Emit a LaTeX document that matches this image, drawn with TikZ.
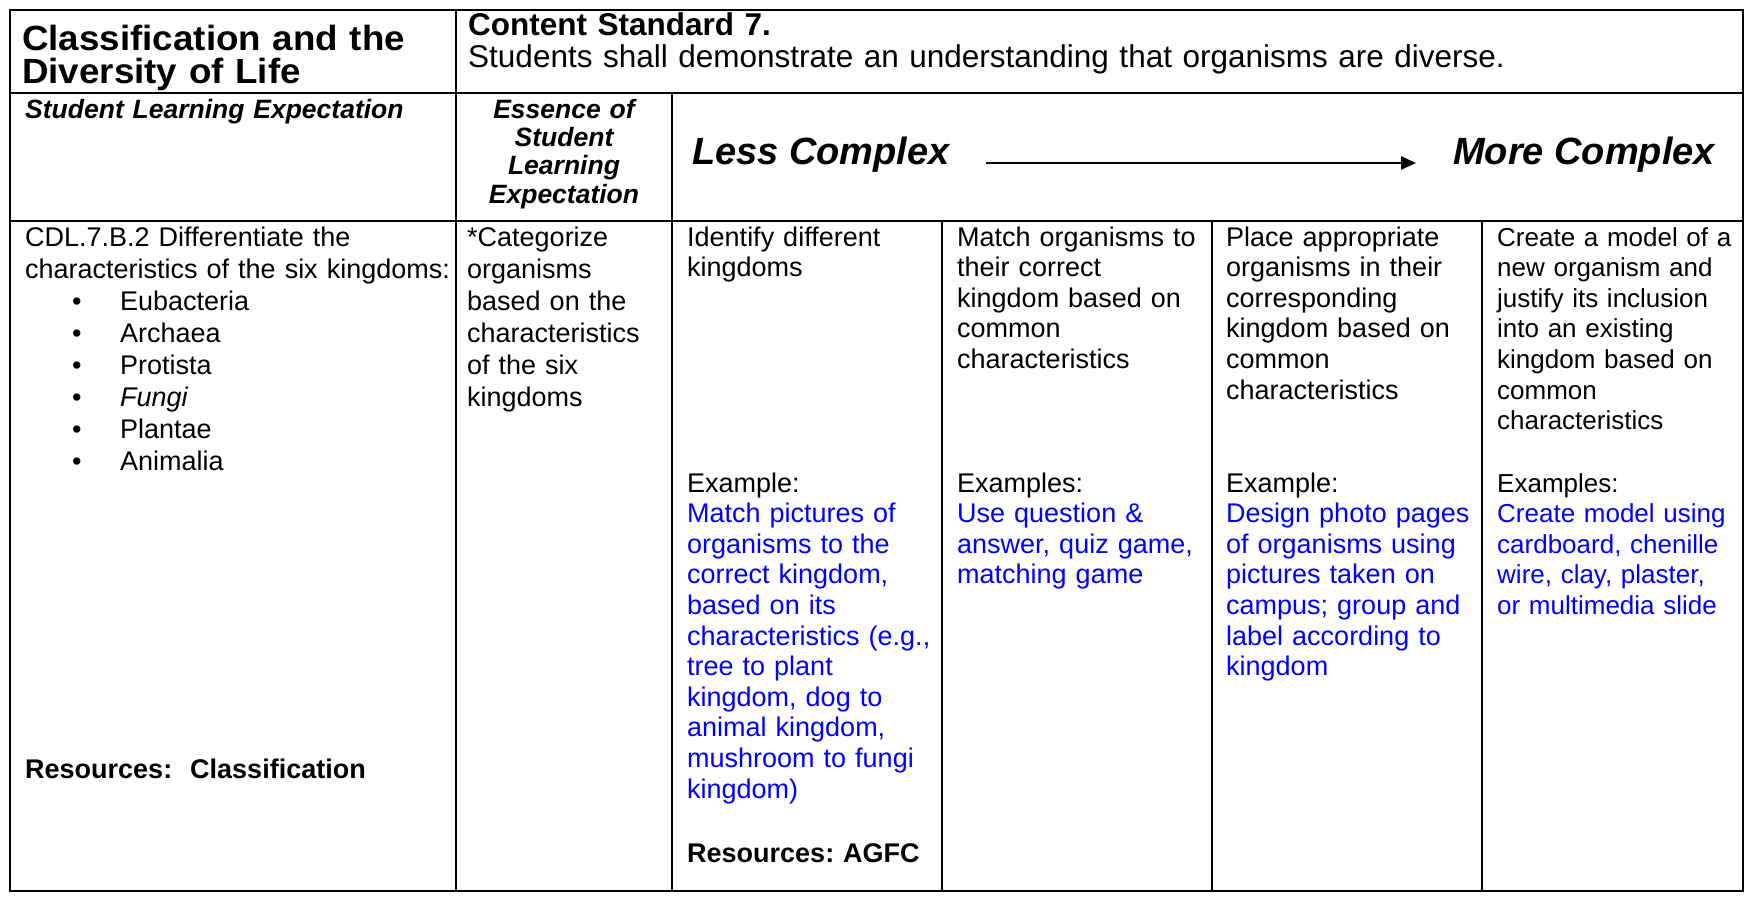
\documentclass[tikz,border=0pt]{standalone}
\usepackage{fontspec}
\setmainfont{Liberation Sans}
\newfontfamily\titlefont[FakeStretch=1.05]{Liberation Sans}
\usetikzlibrary{arrows.meta,positioning}
\definecolor{exblue}{RGB}{0,0,255}
\frenchspacing
\newcommand{\kbullet}[1]{\hspace*{47pt}\makebox[48pt][l]{\textbullet}{#1}}
\tikzset{
sheet/.style={x=1pt,y=-1pt},
rule/.style={line width=2.3pt},
cell/.style={anchor=base west,inner sep=0pt,text width=#1,align=left,
font=\fontsize{27pt}{30.6pt}\selectfont},
cell/.default={300pt},
widecell/.style={cell=#1,font=\fontsize{27pt}{32pt}\selectfont},
lastcell/.style={cell=250pt,font=\fontsize{26pt}{30.6pt}\selectfont},
title/.style={anchor=base west,inner sep=0pt,text width=#1,align=left,
font=\titlefont\fontsize{35pt}{33pt}\selectfont\bfseries},
title/.default={425pt},
standard/.style={anchor=base west,inner sep=0pt,text width=1270pt,align=left,
font=\fontsize{31.5pt}{32pt}\selectfont},
headcell/.style={inner sep=0pt,font=\fontsize{26.5pt}{28.4pt}\selectfont\bfseries\itshape},
scale label/.style={anchor=base west,inner sep=0pt,
font=\fontsize{38pt}{40pt}\selectfont\bfseries\itshape},
}

\begin{document}
\begin{tikzpicture}[sheet]
                    \useasboundingbox (0,0) rectangle (1749,898);
                    \draw[rule] (10,10) rectangle (1743,891);
                    \draw[rule] (10,93) -- (1743,93);
                    \draw[rule] (10,221) -- (1743,221);
                    \draw[rule] (456,10) -- (456,891);
                    \draw[rule] (672,93) -- (672,891);
                    \foreach \x in {942,1212,1482}
                        \draw[rule] (\x,221) -- (\x,891);

                    \node[title] (topic) at (22,50) {Classification and the\\Diversity of Life};
                    \node[standard] (std) at (468,35) {\textbf{Content Standard 7.}\\Students shall demonstrate an understanding that organisms are diverse.};

                    \node[headcell,anchor=base west,text width=420pt,align=left] (sle) at (25,118) {Student Learning Expectation};
                    \node[headcell,anchor=base,text width=210pt,align=center] (essence) at (564,118) {Essence of\\Student\\Learning\\Expectation};
                    \node[scale label] (less) at (692,164) {Less Complex};
                    \node[scale label] (more) at (1453,164) {More Complex};
                    \coordinate (arrowstart) at (986,163);
                    \coordinate (arrowend) at (1416,163);
                    \draw[line width=2.2pt,-{Triangle[length=15pt,width=13pt]}] (arrowstart) -- (arrowend);

                    \node[widecell=425pt] (sletext) at (25,246) {CDL.7.B.2 Differentiate the\\characteristics of the six kingdoms:\\
                        \kbullet{Eubacteria}\\\kbullet{Archaea}\\\kbullet{Protista}\\\kbullet{\itshape Fungi}\\\kbullet{Plantae}\\\kbullet{Animalia}};
                    \node[cell=425pt,font=\fontsize{27pt}{31pt}\selectfont\bfseries] (sleres) at (25,778) {Resources:\ \ Classification};

                    \node[widecell=200pt] (essencetext) at (467,246) {*Categorize\\organisms\\based on the\\characteristics\\of the six\\kingdoms};

                    \node[cell] (lvlone) at (687,246) {Identify different\\kingdoms};
                    \node[cell] (lvloneex) at (687,492) {Example:\\{\color{exblue}Match pictures of\\organisms to the\\correct kingdom,\\based on its\\characteristics (e.g.,\\tree to plant\\kingdom, dog to\\animal kingdom,\\mushroom to fungi\\kingdom)}};
                    \node[cell,font=\fontsize{27pt}{31pt}\selectfont\bfseries] (lvloneres) at (687,862) {Resources: AGFC};

                    \node[cell] (lvltwo) at (957,246) {Match organisms to\\their correct\\kingdom based on\\common\\characteristics};
                    \node[cell] (lvltwoex) at (957,492) {Examples:\\{\color{exblue}Use question \&\\answer, quiz game,\\matching game}};

                    \node[cell] (lvlthree) at (1226,246) {Place appropriate\\organisms in their\\corresponding\\kingdom based on\\common\\characteristics};
                    \node[cell] (lvlthreeex) at (1226,492) {Example:\\{\color{exblue}Design photo pages\\of organisms using\\pictures taken on\\campus; group and\\label according to\\kingdom}};

                    \node[lastcell] (lvlfour) at (1497,246) {Create a model of a\\new organism and\\justify its inclusion\\into an existing\\kingdom based on\\common\\characteristics};
                    \node[lastcell] (lvlfourex) at (1497,492) {Examples:\\{\color{exblue}Create model using\\cardboard, chenille\\wire, clay, plaster,\\or multimedia slide}};
\end{tikzpicture}
\end{document}
